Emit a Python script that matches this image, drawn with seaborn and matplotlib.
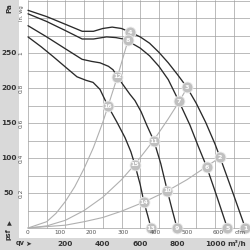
import matplotlib
matplotlib.use("Agg")
import matplotlib.pyplot as plt
import seaborn as sns
import pandas as pd

# ---- data (m3/h, Pa) ----
curve_a_q = [0, 100, 200, 290, 350, 400, 450, 500, 545, 600, 650, 700, 750, 800, 850, 900, 950, 1000, 1027, 1050, 1100, 1162]
curve_a_p = [311, 302, 291, 281, 281, 285, 287, 285, 280, 273, 264, 251, 236, 219, 201, 178, 151, 120, 101, 84, 47, 0]
curve_b_q = [0, 100, 200, 290, 350, 420, 470, 510, 535, 600, 650, 700, 750, 807, 866, 910, 956, 1010, 1066]
curve_b_p = [306, 295, 282, 270, 270, 273, 272, 270, 267, 257, 246, 231, 212, 181, 147, 117, 87, 45, 0]
curve_c_q = [0, 100, 200, 289, 340, 385, 430, 455, 478, 510, 545, 572, 605, 635, 674, 710, 745, 770, 797]
curve_c_p = [289, 273, 256, 241, 238, 236, 231, 226, 216, 204, 191, 182, 166, 147, 124, 92, 53, 27, 0]
curve_d_q = [0, 70, 134, 200, 262, 310, 348, 385, 428, 476, 519, 550, 572, 600, 620, 640, 658]
curve_d_p = [273, 259, 245, 230, 216, 211, 208, 198, 174, 151, 129, 109, 90, 62, 37, 18, 0]

sys1_q = [0, 100, 150, 200, 250, 300, 350, 400, 428, 478, 535, 545]
sys1_p = [0, 9, 21, 38, 59, 85, 115, 151, 174, 216, 268, 280]
sys2_q = [0, 100, 200, 300, 400, 500, 572, 674, 750, 807, 850]
sys2_p = [0, 3, 11, 25, 44, 69, 91, 126, 156, 180, 200]
sys3_q = [0, 200, 300, 400, 500, 620, 745, 850, 956, 1027]
sys3_p = [0, 4, 9, 15, 24, 37, 53, 69, 88, 101]

point_ids = [1, 2, 3, 4, 5, 6, 7, 8, 9, 10, 11, 12, 13, 14, 15, 16]
point_q = [1162, 1027, 850, 545, 1066, 956, 807, 535, 797, 745, 674, 478, 658, 620, 572, 428]
point_p = [0, 101, 201, 280, 0, 87, 181, 268, 0, 53, 124, 216, 0, 37, 90, 174]

pa_ticks = [50, 100, 150, 200, 250]
inwg_ticks = [0.2, 0.4, 0.6, 0.8, 1]
inwg_labels = ["0.2", "0.4", "0.6", "0.8", "1"]
m3h_ticks = [200, 400, 600, 800, 1000]
cfm_ticks = [0, 100, 200, 300, 400, 500, 600]

PA_PER_INWG = 249.09
M3H_PER_CFM = 1.699

# axes span the whole 250x250 figure; 1 px = QPX m3/h horizontally, PPX Pa vertically
QPX = 1 / 0.187
PPX = 1 / 0.7
X0PX, Y0PX = 28, 228          # pixel position of the (0, 0) point
XMIN, XMAX = -X0PX * QPX, (250 - X0PX) * QPX
YMIN, YMAX = -(250 - Y0PX) * PPX, Y0PX * PPX


def qx(px):   # pixel column -> data x
    return XMIN + px * QPX


def py(px):   # pixel row (from top) -> data y
    return YMAX - px * PPX


sns.set_theme(style="white")
plt.rcParams['font.family'] = ['DejaVu Sans']

fig = plt.figure(figsize=(2.5, 2.5), dpi=100, facecolor="white")
ax = fig.add_axes([0, 0, 1, 1])
ax.set_facecolor("white")
ax.set_xlim(XMIN, XMAX)
ax.set_ylim(YMIN, YMAX)
for s in ax.spines.values():
    s.set_visible(False)
ax.set_xticks([])
ax.set_yticks([])

# gray side panels
panel = "#d9d9d9"
ax.axvspan(XMIN, qx(19), color=panel, lw=0, zorder=0)
ax.axhspan(YMIN, py(238), color=panel, lw=0, zorder=0)

# grid
gc = "#a0a0a0"
for q in range(0, 1200, 100):
    ax.plot([q, q], [0, YMAX], color=gc, lw=0.5, zorder=1)
for g in range(0, 330, 25):
    ax.plot([0, XMAX], [g, g], color=gc, lw=0.5, zorder=1)

# system curves
for qq, pp in [(sys1_q, sys1_p), (sys2_q, sys2_p), (sys3_q, sys3_p)]:
    sns.lineplot(x=qq, y=pp, ax=ax, color="#b0b0b0", lw=0.8, sort=False,
                 estimator=None, zorder=2)

# fan curves
for qq, pp in [(curve_a_q, curve_a_p), (curve_b_q, curve_b_p),
               (curve_c_q, curve_c_p), (curve_d_q, curve_d_p)]:
    sns.lineplot(x=qq, y=pp, ax=ax, color="#2a2a2a", lw=0.95, sort=False,
                 estimator=None, zorder=3)

# numbered operating points
pts = pd.DataFrame({"q": point_q, "p": point_p, "id": point_ids})
sns.scatterplot(data=pts, x="q", y="p", ax=ax, s=62, color="#c0c0c0",
                edgecolor="#eeeeee", linewidth=0.6, zorder=4)
for _, r in pts.iterrows():
    ax.text(r.q, r.p, str(int(r.id)), color="white", fontsize=4.6,
            fontweight="bold", ha="center", va="center", zorder=5)

ax.set_xlim(XMIN, XMAX)
ax.set_ylim(YMIN, YMAX)
ax.set_xlabel("")
ax.set_ylabel("")

tc = "#333333"
# left gray panel labels (Pa)
for val in pa_ticks:
    ax.text(qx(8.8), val, str(val), ha="center", va="center",
            fontsize=5.3, fontweight="bold", color=tc, zorder=10)
ax.text(qx(9), py(8), "Pa", rotation=90, ha="center", va="center",
        fontsize=5.2, fontweight="bold", color=tc, zorder=10)
ax.text(qx(9), py(224), "▲", ha="center", va="center",
        fontsize=4.5, color=tc, zorder=10)
ax.text(qx(9), py(234), "psf", rotation=90, ha="center", va="center",
        fontsize=4.8, fontweight="bold", color=tc, zorder=10)

# in. wg inner labels
ax.text(qx(22), py(13), "in. wg", rotation=90, ha="center", va="center",
        fontsize=3.8, color="#555555", zorder=10)
for v, lab in zip(inwg_ticks, inwg_labels):
    ax.text(qx(21), v * PA_PER_INWG, lab, rotation=90, ha="center", va="center",
            fontsize=4.2, color="#555555", zorder=10)

# bottom gray panel labels (m3/h)
for q in m3h_ticks:
    ax.text(q, py(243.5), str(q), ha="center", va="center", fontsize=5.3,
            fontweight="bold", color=tc, zorder=10)
ax.text(qx(237), py(243.5), "m³/h", ha="center", va="center",
        fontsize=5.2, fontweight="bold", color=tc, zorder=10)
ax.text(qx(20), py(243.5), "qv", ha="center", va="center",
        fontsize=4.8, fontweight="bold", color=tc, zorder=10)
ax.text(qx(28), py(243.5), "➤", ha="center", va="center",
        fontsize=5, color=tc, zorder=10)

# cfm inner labels
for c in cfm_ticks:
    ax.text(c * M3H_PER_CFM, py(233), str(c), ha="center", va="center",
            fontsize=4.2, color="#555555", zorder=10)
ax.text(qx(240), py(233), "cfm", ha="center", va="center", fontsize=4.2,
        color="#555555", zorder=10)

fig.savefig("out.png", dpi=100, facecolor=fig.get_facecolor())
